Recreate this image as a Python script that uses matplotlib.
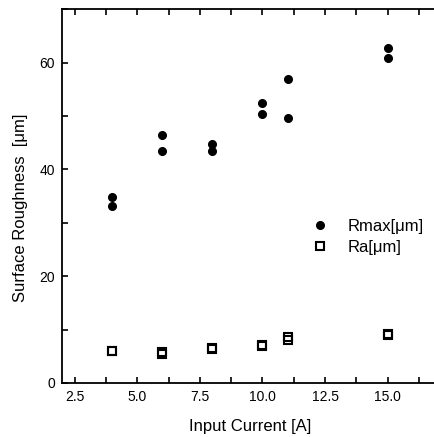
import numpy as np
import matplotlib.pyplot as plt
from matplotlib.ticker import MultipleLocator

plt.rcParams['font.family'] = ['Liberation Sans', 'DejaVu Sans']

# Rmax measurements (two per current)
rmax_x = [4, 4, 6, 6, 8, 8, 10, 10, 11, 11, 15, 15]
rmax_y = [34.8, 33.2, 46.4, 43.5, 44.8, 43.5, 52.4, 50.4, 56.9, 49.6, 62.7, 60.9]
# Ra measurements
ra_x = [4, 4, 6, 6, 8, 8, 10, 10, 11, 11, 15, 15]
ra_y = [5.9, 6.0, 5.4, 5.8, 6.4, 6.5, 7.0, 7.2, 8.1, 8.7, 8.9, 9.1]

fig = plt.figure(figsize=(4.34, 4.37), dpi=100)
ax = fig.add_axes([0.1429, 0.1236, 0.866, 0.855])

ax.plot(rmax_x, rmax_y, 'o', color='black', markersize=5.5, label='Rmax[\u03bcm]')
ax.plot(ra_x, ra_y, 's', markerfacecolor='none', markeredgecolor='black',
        markersize=6, markeredgewidth=1.5, label='Ra[\u03bcm]')

ax.set_xlim(2, 17)
ax.set_ylim(0, 70)
ax.xaxis.set_major_locator(MultipleLocator(2.5))
ax.xaxis.set_minor_locator(MultipleLocator(1.25))
ax.yaxis.set_major_locator(MultipleLocator(20))
ax.yaxis.set_minor_locator(MultipleLocator(10))
ax.xaxis.set_major_formatter(plt.FormatStrFormatter('%.1f'))
ax.tick_params(which='both', direction='in', top=True, right=False, width=1.2,
               labelsize=10, pad=5)
ax.tick_params(which='major', length=4.5)
ax.tick_params(which='minor', length=4)
for s in ax.spines.values():
    s.set_linewidth(1.3)

ax.set_xlabel('Input Current [A]', fontsize=12, labelpad=11)
ax.set_ylabel('Surface Roughness  [\u03bcm]', fontsize=12, labelpad=8, y=0.47)

ax.legend(loc='upper left', bbox_to_anchor=(0.635, 0.456), frameon=False,
          fontsize=12, handletextpad=0.93, labelspacing=0.36, handlelength=1.5,
          borderaxespad=0)

fig.savefig('out.png', dpi=100)
